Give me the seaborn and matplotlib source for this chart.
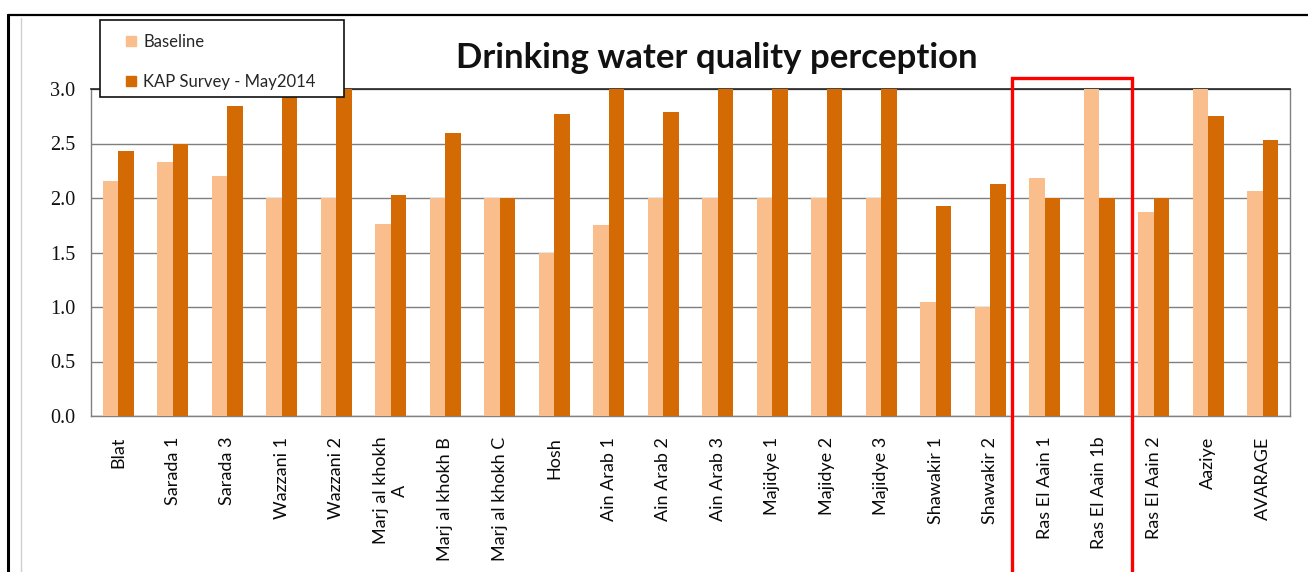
import matplotlib
matplotlib.use("Agg")
import matplotlib.pyplot as plt
from matplotlib.patches import Rectangle
from matplotlib.lines import Line2D
import seaborn as sns
import pandas as pd

# Sites surveyed (x-axis categories)
sites = [
    "Blat", "Sarada 1", "Sarada 3", "Wazzani 1", "Wazzani 2",
    "Marj al khokh\nA", "Marj al khokh B", "Marj al khokh C", "Hosh",
    "Ain Arab 1", "Ain Arab 2", "Ain Arab 3", "Majidye 1", "Majidye 2",
    "Majidye 3", "Shawakir 1", "Shawakir 2", "Ras El Aain 1",
    "Ras El Aain 1b", "Ras El Aain 2", "Aaziye", "AVARAGE",
]

# Mean perception scores per site
baseline = [2.16, 2.33, 2.20, 2.00, 2.00, 1.76, 2.00, 2.00, 1.50, 1.75, 2.00,
            2.00, 2.00, 2.00, 2.00, 1.05, 1.00, 2.18, 3.00, 1.87, 3.00, 2.06]
kap_may2014 = [2.43, 2.50, 2.84, 2.96, 3.00, 2.03, 2.60, 2.00, 2.77, 3.00, 2.79,
               3.00, 3.00, 3.00, 3.00, 1.93, 2.13, 2.00, 2.00, 2.00, 2.75, 2.53]

series_names = ["Baseline", "KAP Survey - May2014"]
y_ticks = [0.0, 0.5, 1.0, 1.5, 2.0, 2.5, 3.0]

# Sites highlighted by the red frame
highlighted = ["Ras El Aain 1", "Ras El Aain 1b"]

df = pd.DataFrame({"site": sites,
                   series_names[0]: baseline,
                   series_names[1]: kap_may2014})
long_df = df.melt(id_vars="site", var_name="series", value_name="score")

sns.set_theme(style="white")
plt.rcParams["font.family"] = ["Lato", "DejaVu Sans"]

palette = {series_names[0]: "#F9BE8C", series_names[1]: "#D46A04"}

fig = plt.figure(figsize=(13.08, 5.72), dpi=100)
ax = fig.add_axes([91 / 1308, 1 - 416 / 572, (1290 - 91) / 1308, (416 - 89) / 572])

sns.barplot(data=long_df, x="site", y="score", hue="series", order=sites,
            hue_order=series_names, palette=palette, width=0.57,
            saturation=1, linewidth=0, ax=ax, legend=False, zorder=3)

ax.set_ylim(0, 3.0)
ax.set_xlim(-0.5, len(sites) - 0.5)
ax.set_yticks(y_ticks)
ax.set_yticklabels([f"{v:.1f}" for v in y_ticks], family="Liberation Serif",
                   fontsize=14.5)
ax.set_xlabel("")
ax.set_ylabel("")
ax.tick_params(axis="y", length=0, pad=11.5, colors="#111111")
ax.tick_params(axis="x", length=0, pad=15)
for lab in ax.get_xticklabels():
    lab.set_rotation(90)
    lab.set_fontsize(13)
    lab.set_color("#0a0a0a")

ax.yaxis.grid(True, color="#7f7f7f", linewidth=1.0, zorder=0)
ax.set_axisbelow(True)
for side in ["left", "right", "bottom"]:
    ax.spines[side].set_color("#808080")
    ax.spines[side].set_linewidth(1.0)
ax.spines["top"].set_color("#222222")
ax.spines["top"].set_linewidth(1.2)

# Red frame around the highlighted sites
i0 = sites.index(highlighted[0])
i1 = sites.index(highlighted[-1])
ax.add_patch(Rectangle((i0 - 0.6, -3.0), (i1 - i0) + 1.2, 6.1,
                       transform=ax.transData, fill=False, edgecolor="#FF0000",
                       linewidth=2.4, clip_on=False, zorder=6))

# Title
fig.text(0.548, 0.898, "Drinking water quality perception", ha="center",
         va="center", fontsize=25, fontweight="bold", color="#111111")

# Legend box with its entries
fig.patches.append(Rectangle((100 / 1308, 1 - 97 / 572), 244 / 1308, 77 / 572,
                             transform=fig.transFigure, facecolor="white",
                             edgecolor="#111111", linewidth=1.2, zorder=5))
handles = [Line2D([], [], marker="s", linestyle="none", markersize=7,
                  markerfacecolor=palette[n], markeredgecolor=palette[n])
           for n in series_names]
fig.legend(handles, series_names, loc="upper left",
           bbox_to_anchor=(119 / 1308, 1 - 32 / 572), frameon=False,
           fontsize=12, handlelength=1.2, handletextpad=0.15,
           labelspacing=1.45, borderpad=0.1, borderaxespad=0)

# Outer frame lines
fig.add_artist(Line2D([8 / 1308, 1.0], [1 - 15 / 572, 1 - 15 / 572],
                      transform=fig.transFigure, color="black", linewidth=1.6))
fig.add_artist(Line2D([8 / 1308, 8 / 1308], [0, 1 - 15 / 572],
                      transform=fig.transFigure, color="black", linewidth=2.2))
fig.add_artist(Line2D([21 / 1308, 21 / 1308], [0, 1 - 18 / 572],
                      transform=fig.transFigure, color="#cfcfcf", linewidth=1.0))

fig.savefig("out.png", dpi=100)
